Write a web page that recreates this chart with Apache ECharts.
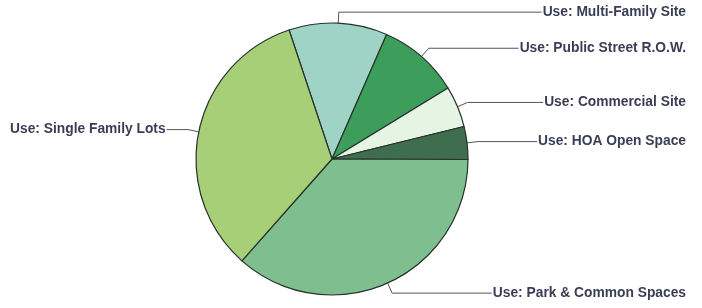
<!DOCTYPE html>
<html>
<head>
<meta charset="utf-8">
<script src="https://cdn.jsdelivr.net/npm/echarts@6/dist/echarts.min.js"></script>
<style>
  html, body { margin: 0; padding: 0; background: #fff; }
  #chart { width: 702px; height: 308px; }
</style>
</head>
<body>
<div id="chart"></div>
<script>
// land use shares (percent), clockwise from top
const uses = ['Use: Multi-Family Site', 'Use: Public Street R.O.W.', 'Use: Commercial Site',
  'Use: HOA Open Space', 'Use: Park & Common Spaces', 'Use: Single Family Lots'];
const shares = [11.7, 9.7, 4.9, 3.9, 36.5, 33.4];
const colors = ['#9fd3c6', '#3d9e5c', '#e6f5e3', '#3f6e4e', '#7fbf8f', '#a7cf78'];

const chart = echarts.init(document.getElementById('chart'));
const cx = 332;

chart.setOption({
  animation: false,
  series: [
    {
      type: 'pie',
      center: [cx, 159],
      radius: 136,
      startAngle: 108.4,
      clockwise: true,
      avoidLabelOverlap: false,
      itemStyle: {
        borderColor: '#26332a',
        borderWidth: 1.2
      },
      label: {
        show: true,
        formatter: '{b}',
        alignTo: 'edge',
        edgeDistance: 16,
        color: '#3a3d55',
        fontFamily: 'Liberation Sans',
        fontWeight: 'bold',
        fontSize: 13.8,
        padding: 0
      },
      labelLine: {
        show: true,
        length: 11,
        length2: 10,
        lineStyle: { color: '#555', width: 1 }
      },
      // stretch the leader line so it reaches the text
      labelLayout: function (params) {
        const pts = params.labelLinePoints;
        const r = params.labelRect;
        if (!pts) return {};
        const right = r.x > cx;
        const endX = right ? r.x - 1 : r.x + r.width + 1;
        return {
          labelLinePoints: [pts[0], pts[1], [endX, pts[1][1]]]
        };
      },
      emphasis: { disabled: true },
      data: uses.map((name, i) => ({
        name: name,
        value: shares[i],
        itemStyle: { color: colors[i] },
        label: i === 5 ? { edgeDistance: 10 } : undefined
      }))
    }
  ]
});
</script>
</body>
</html>
